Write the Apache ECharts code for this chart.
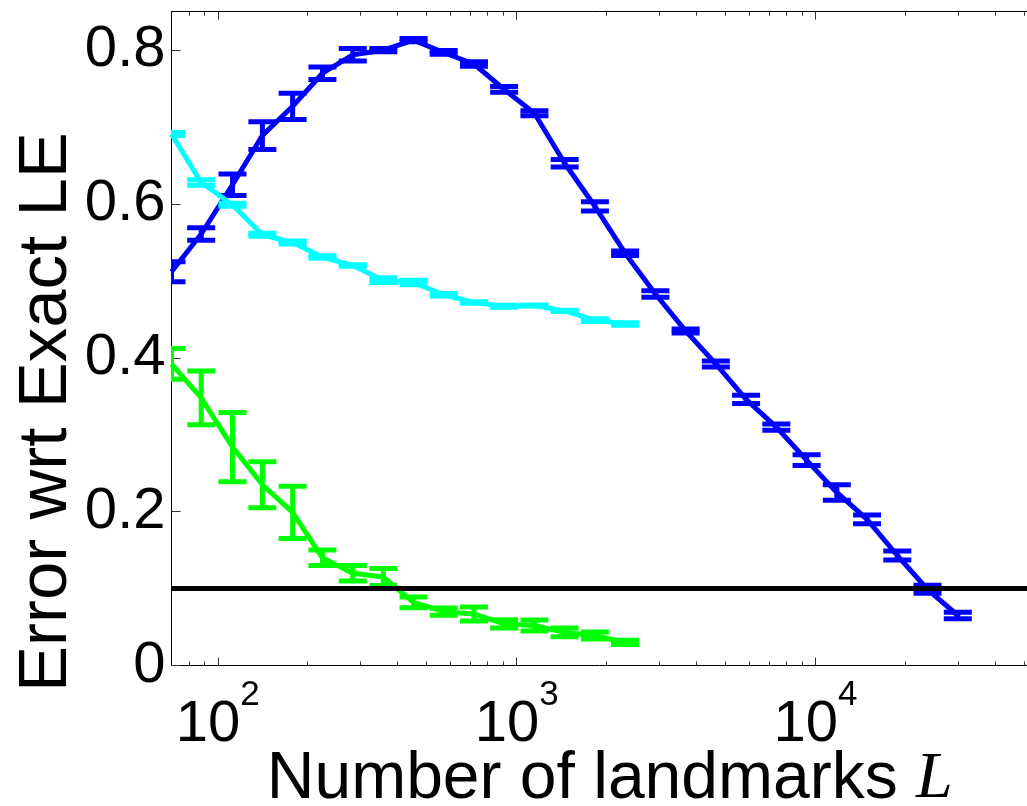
<!DOCTYPE html>
<html><head><meta charset="utf-8">
<script src="https://cdn.jsdelivr.net/npm/echarts@6/dist/echarts.min.js"></script>
<style>html,body{margin:0;padding:0;background:#fff}#c{width:1027px;height:806px}</style>
</head><body><div id="c"></div>
<script>
// Number of landmarks L (x values)
const landmarks = [70, 88, 112, 141, 178, 224, 283, 358, 452, 570, 720, 908, 1147, 1448, 1828, 2307, 2913, 3677, 4642, 5860, 7397, 9338, 11788, 14882, 18787, 23717, 29941];
// Blue series
const blueMean = [0.512, 0.561, 0.625, 0.689, 0.727, 0.770, 0.794, 0.800, 0.813, 0.797, 0.782, 0.749, 0.718, 0.653, 0.597, 0.536, 0.483, 0.435, 0.392, 0.346, 0.310, 0.267, 0.225, 0.190, 0.143, 0.099, 0.065];
const blueErr  = [0.013, 0.008, 0.014, 0.018, 0.017, 0.008, 0.008, 0.002, 0.002, 0.0024, 0.003, 0.0037, 0.0032, 0.0048, 0.006, 0.003, 0.0043, 0.0026, 0.004, 0.0054, 0.004, 0.0069, 0.010, 0.0056, 0.0058, 0.0052, 0.0043];
// Cyan series
const cyanMean = [0.691, 0.628, 0.599, 0.560, 0.550, 0.531, 0.520, 0.501, 0.498, 0.482, 0.472, 0.467, 0.468, 0.461, 0.449, 0.444];
const cyanErr  = [0.002, 0.0035, 0.002, 0.002, 0.002, 0.0017, 0.001, 0.003, 0.003, 0.0017, 0.001, 0.0013, 0.0007, 0.0007, 0.0017, 0.0015];
// Green series
const greenMean = [0.392, 0.348, 0.284, 0.235, 0.199, 0.140, 0.120, 0.115, 0.082, 0.070, 0.067, 0.054, 0.052, 0.043, 0.039, 0.030];
const greenErr  = [0.020, 0.035, 0.045, 0.030, 0.034, 0.010, 0.010, 0.011, 0.007, 0.0048, 0.0092, 0.0054, 0.0071, 0.0056, 0.0045, 0.0028];
// Reference level
const threshold = 0.1;
// Ticks
const xMajorTicks = [100, 1000, 10000];
const xMinorTicks = [80, 90, 200, 300, 400, 500, 600, 700, 800, 900, 2000, 3000, 4000, 5000, 6000, 7000, 8000, 9000, 20000, 30000, 40000, 50000];
const yTicks = [0, 0.2, 0.4, 0.6, 0.8];
const xMin = 70, xMax = 60000, yMin = 0, yMax = 0.85;

const SANS = "'Liberation Sans', Arial, Helvetica, sans-serif";
const TICKCOL = '#333';

function pairs(mean) { return mean.map((v, i) => [landmarks[i], v]); }
function triples(mean, err) { return mean.map((v, i) => [landmarks[i], v, err[i]]); }

function errRender(color) {
  return function (params, api) {
    const x = api.value(0), y = api.value(1), e = api.value(2);
    const hi = api.coord([x, y + e]), lo = api.coord([x, y - e]);
    const hw = 14;
    const style = { stroke: color, lineWidth: 5, lineCap: 'butt', fill: null };
    return { type: 'group', children: [
      { type: 'line', shape: { x1: hi[0], y1: hi[1], x2: lo[0], y2: lo[1] }, style: style },
      { type: 'line', shape: { x1: hi[0] - hw, y1: hi[1], x2: hi[0] + hw, y2: hi[1] }, style: style },
      { type: 'line', shape: { x1: lo[0] - hw, y1: lo[1], x2: lo[0] + hw, y2: lo[1] }, style: style }
    ]};
  };
}

function lineSeries(mean, color, z) {
  return { type: 'line', xAxisIndex: 0, yAxisIndex: 0, data: pairs(mean), showSymbol: false, symbol: 'none',
    lineStyle: { color: color, width: 5 }, z: z, clip: true, silent: true };
}
function errSeries(mean, err, color, z) {
  return { type: 'custom', xAxisIndex: 0, yAxisIndex: 0, data: triples(mean, err), encode: { x: 0, y: 1 },
    renderItem: errRender(color), z: z, clip: true, silent: true };
}

function xAxisDef(pos, ticks, len, showLine, showLabel, extra) {
  return Object.assign({
    type: 'log', position: pos, min: xMin, max: xMax, logBase: 10,
    axisLine: { show: showLine, onZero: false, lineStyle: { color: '#000', width: 1 } },
    axisTick: { show: true, inside: true, length: len, customValues: ticks, lineStyle: { color: TICKCOL, width: 1 } },
    axisLabel: { show: false },
    splitLine: { show: false }, minorTick: { show: false }, minorSplitLine: { show: false }
  }, extra || {});
}

const chart = echarts.init(document.getElementById('c'), null, { renderer: 'canvas' });
chart.setOption({
  animation: false,
  backgroundColor: '#fff',
  grid: { left: 171.5, top: 11.7, right: -21, bottom: 140.5, containLabel: false, outerBoundsMode: 'none' },
  xAxis: [
    xAxisDef('bottom', xMajorTicks, 8, true, true, {
      name: '{a|Number of landmarks }{b|L}',
      nameLocation: 'middle', nameGap: 81, nameMoveOverlap: false,
      nameTextStyle: { rich: {
        a: { fontFamily: SANS, fontSize: 66, color: '#000' },
        b: { fontFamily: "'Liberation Serif', 'Times New Roman', serif", fontStyle: 'italic', fontSize: 66, color: '#000' }
      } },
      axisLabel: { show: true, customValues: xMajorTicks, margin: 12.5,
        formatter: function (v) { return '{b|10}{s|' + Math.round(Math.log10(v)) + '}'; },
        rich: {
          b: { fontFamily: SANS, fontSize: 58, lineHeight: 94, color: '#000' },
          s: { fontFamily: SANS, fontSize: 35, lineHeight: 35, verticalAlign: 'top', color: '#000' }
        } }
    }),
    xAxisDef('bottom', xMinorTicks, 4, false, false),
    xAxisDef('top', xMajorTicks, 8, true, false),
    xAxisDef('top', xMinorTicks, 4, false, false)
  ],
  yAxis: [{
    type: 'value', min: yMin, max: yMax, position: 'left',
    name: 'Error wrt Exact LE', nameLocation: 'middle', nameGap: 90, nameMoveOverlap: false,
    nameTextStyle: { fontFamily: SANS, fontSize: 69, color: '#000', padding: [0, 147, 0, 0] },
    axisLine: { show: true, onZero: false, lineStyle: { color: '#000', width: 1 } },
    axisTick: { show: true, inside: true, length: 9, customValues: yTicks, lineStyle: { color: TICKCOL, width: 1 } },
    axisLabel: { show: true, customValues: yTicks, margin: 6, fontFamily: SANS, fontSize: 58, color: '#000',
      formatter: function (v) { return v === 0 ? '0' : v.toFixed(1); } },
    splitLine: { show: false }
  }],
  series: [
    lineSeries(blueMean, '#0000ff', 2),
    errSeries(blueMean, blueErr, '#0000ff', 2),
    lineSeries(cyanMean, '#00ffff', 3),
    errSeries(cyanMean, cyanErr, '#00ffff', 3),
    lineSeries(greenMean, '#00ff00', 4),
    errSeries(greenMean, greenErr, '#00ff00', 4),
    { type: 'line', data: [], xAxisIndex: 0, yAxisIndex: 0, z: 5, silent: true,
      markLine: { silent: true, symbol: ['none', 'none'], label: { show: false }, animation: false,
        lineStyle: { color: '#000', width: 5, type: 'solid' },
        data: [{ yAxis: threshold }] } }
  ]
});
</script>
</body></html>
